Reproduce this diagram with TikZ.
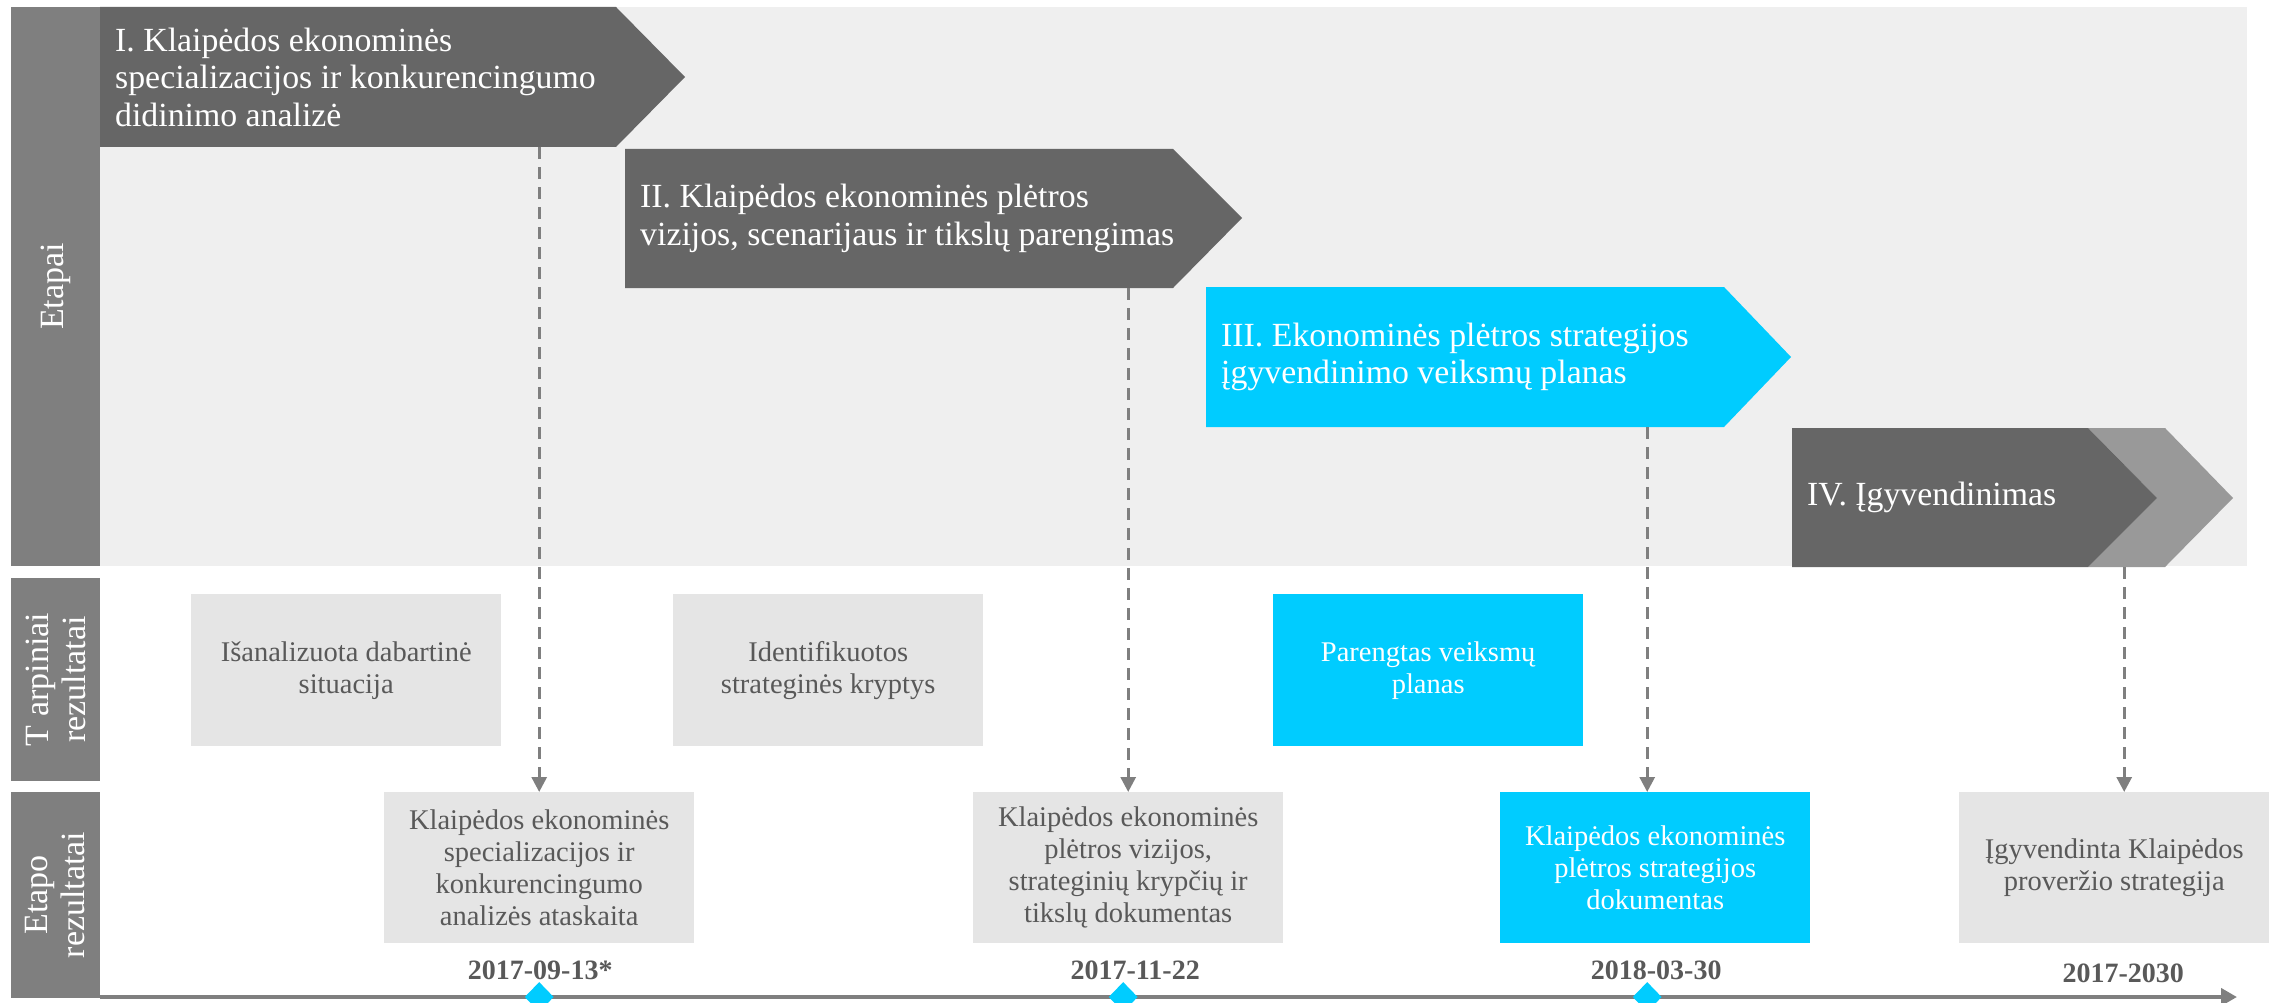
\documentclass[tikz,border=0pt]{standalone}
\usepackage{fontspec}
\setmainfont{Liberation Serif}
\usetikzlibrary{arrows.meta, calc, shapes.geometric}
\definecolor{etapgray}{HTML}{666666}
\definecolor{labgray}{HTML}{7F7F7F}
\definecolor{bandgray}{HTML}{EFEFEF}
\definecolor{boxgray}{HTML}{E5E5E5}
\definecolor{txtgray}{HTML}{595959}
\definecolor{chevgray}{HTML}{999999}
\definecolor{cyanbox}{HTML}{00CCFF}

\begin{document}
\begin{tikzpicture}[x=1pt, y=-1pt,
  lab/.style={fill=labgray, text=white, rotate=90, align=center, inner sep=0pt,
    font=\fontsize{34}{37}\selectfont},
  stagetxt/.style={anchor=west, inner xsep=15pt, inner ysep=0pt, align=left,
    text=white, font=\fontsize{33.8}{37.5}\selectfont},
  res/.style={anchor=north west, minimum width=310pt, minimum height=152pt,
    inner sep=0pt, fill=boxgray, text=txtgray, align=center,
    font=\fontsize{28.5}{32}\selectfont},
  datelbl/.style={text=txtgray, font=\bfseries\fontsize{28}{30}\selectfont},
  milestone/.style={shape=diamond, fill=cyanbox, minimum width=29pt,
    minimum height=30pt, inner sep=0pt},
  dasharrow/.style={labgray, line width=3pt, dash pattern=on 12pt off 8pt,
    -{Triangle[length=15pt, width=15pt]}},
  axisline/.style={labgray, line width=4pt, -{Triangle[length=16pt, width=17pt]}}]
\useasboundingbox (0,0) rectangle (2275,1003);

% etapu juosta
\fill[bandgray] (100,7) rectangle (2247,566);
\node[lab, minimum width=559pt, minimum height=89pt] (etapai) at (55.5,286.5) {Etapai};
\node[lab, minimum width=203pt, minimum height=89pt] (tarp) at (55.5,679.5) {T arpiniai\\rezultatai};
\node[lab, minimum width=206pt, minimum height=89pt] (etapo) at (55.5,895) {Etapo\\rezultatai};

% etapai
\fill[etapgray] (100,7) -- (616,7) -- (685,77) -- (616,147) -- (100,147) -- cycle;
\fill[etapgray] (625,149) -- (1173,149) -- (1242,218) -- (1173,288) -- (625,288) -- cycle;
\fill[cyanbox] (1206,287) -- (1724,287) -- (1791,357) -- (1724,427) -- (1206,427) -- cycle;
\fill[chevgray] (2088,428) -- (2165,428) -- (2233,498) -- (2165,567) -- (2088,567) -- (2157,498) -- cycle;
\fill[etapgray] (1792,428) -- (2088,428) -- (2157,498) -- (2088,567) -- (1792,567) -- cycle;

\node[stagetxt, minimum height=140pt] (s1) at (100,77) {I. Klaipėdos ekonominės\\specializacijos ir konkurencingumo\\didinimo analizė};
\node[stagetxt, minimum height=139pt] (s2) at (625,218.5) {II. Klaipėdos ekonominės plėtros\\vizijos, scenarijaus ir tikslų parengimas};
\node[stagetxt, minimum height=140pt] (s3) at (1206,357) {III. Ekonominės plėtros strategijos\\įgyvendinimo veiksmų planas};
\node[stagetxt, minimum height=139pt] (s4) at (1792,497.5) {IV. Įgyvendinimas};

% tarpiniai rezultatai
\node[res] (t1) at (191,594) {Išanalizuota dabartinė\\situacija};
\node[res] (t2) at (673,594) {Identifikuotos\\strateginės kryptys};
\node[res, fill=cyanbox, text=white] (t3) at (1273,594) {Parengtas veiksmų\\planas};

% etapo rezultatai
\node[res, minimum height=151pt] (r1) at (384,792) {Klaipėdos ekonominės\\specializacijos ir\\konkurencingumo\\analizės ataskaita};
\node[res, minimum height=151pt] (r2) at (973,792) {Klaipėdos ekonominės\\plėtros vizijos,\\strateginių krypčių ir\\tikslų dokumentas};
\node[res, minimum height=151pt, fill=cyanbox, text=white] (r3) at (1500,792) {Klaipėdos ekonominės\\plėtros strategijos\\dokumentas};
\node[res, minimum height=151pt] (r4) at (1959,792) {Įgyvendinta Klaipėdos\\proveržio strategija};

\coordinate (f3) at ($(r3.north)+(-8,0)$);
\coordinate (f4) at ($(r4.north)+(10,0)$);
\draw[dasharrow] (r1.north |- s1.south) -- (r1.north);
\draw[dasharrow] (r2.north |- s2.south) -- (r2.north);
\draw[dasharrow] (f3 |- s3.south) -- (f3);
\draw[dasharrow] (f4 |- s4.south) -- (f4);

% laiko asis
\coordinate (axstart) at (100,997);
\coordinate (axend) at (2237,997);
\draw[axisline] (axstart) -- (axend);
\node[milestone] (m1) at (r1.south |- axstart) {};
\node[milestone] (m2) at ($(r2.south |- axstart)+(-5,0)$) {};
\node[milestone] (m3) at (f3 |- axstart) {};

\node[datelbl] (d1) at ($(r1.south)+(1,27)$) {2017-09-13*};
\node[datelbl] (d2) at ($(r2.south)+(7,27)$) {2017-11-22};
\node[datelbl] (d3) at ($(r3.south)+(1,27)$) {2018-03-30};
\node[datelbl] (d4) at ($(r4.south)+(9,30)$) {2017-2030};
\end{tikzpicture}
\end{document}
